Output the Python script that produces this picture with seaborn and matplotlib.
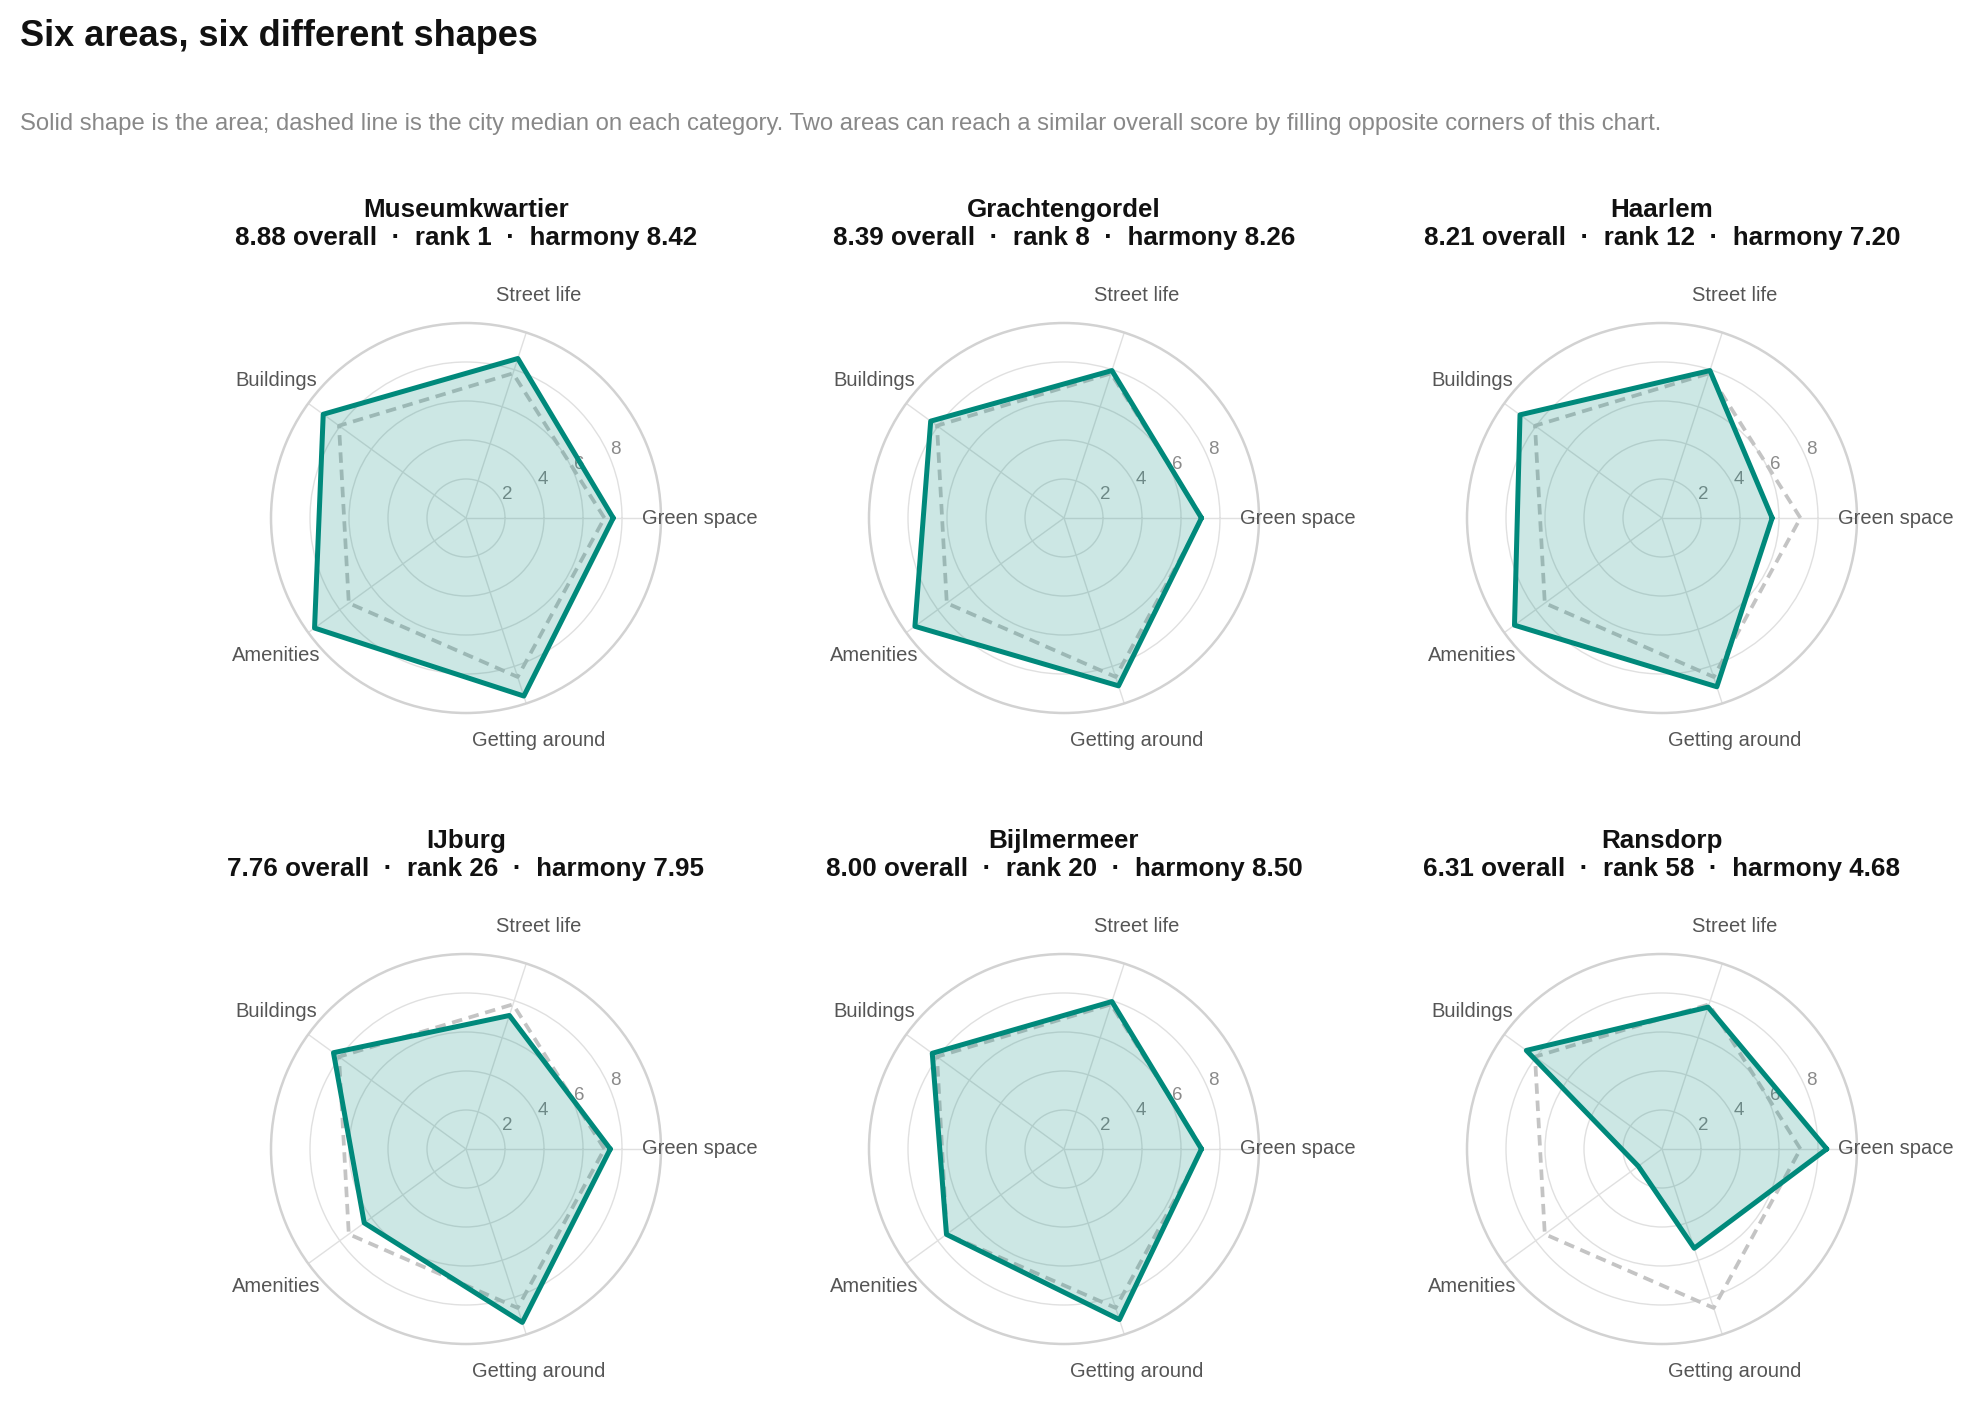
import numpy as np
import pandas as pd
import matplotlib
matplotlib.use("Agg")
import matplotlib.pyplot as plt
import seaborn as sns

# Data
categories = ["Green space", "Street life", "Buildings", "Amenities", "Getting around"]
areas = ["Museumkwartier", "Grachtengordel", "Haarlem", "IJburg", "Bijlmermeer", "Ransdorp"]
overall = [8.88, 8.39, 8.21, 7.76, 8.00, 6.31]
rank = [1, 8, 12, 26, 20, 58]
harmony = [8.42, 8.26, 7.20, 7.95, 8.50, 4.68]

museumkwartier = [7.55, 8.6, 9.05, 9.6, 9.6]
grachtengordel = [7.05, 7.95, 8.45, 9.45, 9.05]
haarlem = [5.65, 7.95, 9.0, 9.35, 9.1]
ijburg = [7.4, 7.2, 8.4, 6.45, 9.35]
bijlmermeer = [7.05, 7.95, 8.35, 7.45, 9.2]
ransdorp = [8.45, 7.65, 8.6, 1.5, 5.35]
city_median = [7.1, 7.8, 8.05, 7.43, 8.57]

scores = [museumkwartier, grachtengordel, haarlem, ijburg, bijlmermeer, ransdorp]

sns.set_theme(style="white")
plt.rcParams["font.family"] = ["Liberation Sans", "DejaVu Sans"]

TEAL = "#00897B"
W, H = 1974, 1401
R = 195
col_x = [466, 1064, 1662]
row_y = [518, 1149]

angles = np.linspace(0, 2 * np.pi, len(categories), endpoint=False)


def closed(values):
    # long-form frame for seaborn, first point repeated to close the shape
    theta = list(angles) + [angles[0]]
    r = list(values) + [values[0]]
    return pd.DataFrame({"theta": theta, "r": r})


fig = plt.figure(figsize=(W / 100, H / 100), dpi=100)

fig.text(20 / W, 1 - 37 / H, "Six areas, six different shapes",
         fontsize=26, fontweight="bold", color="#111111", va="center", ha="left")
fig.text(20 / W, 1 - 124 / H,
         "Solid shape is the area; dashed line is the city median on each category. "
         "Two areas can reach a similar overall score by filling opposite corners of this chart.",
         fontsize=17.2, color="#888888", va="center", ha="left")

for i, name in enumerate(areas):
    cx = col_x[i % 3]
    cy = row_y[i // 3]
    ax = fig.add_axes([(cx - R) / W, 1 - (cy + R) / H, 2 * R / W, 2 * R / H],
                      projection="polar")
    ax.set_axisbelow(True)

    med = closed(city_median)
    sns.lineplot(data=med, x="theta", y="r", ax=ax, sort=False, estimator=None,
                 color="#c4c4c4", linewidth=2.7, linestyle=(0, (2.8, 1.8)), zorder=2)
    area = closed(scores[i])
    ax.fill(area["theta"], area["r"], color=TEAL, alpha=0.2, linewidth=0, zorder=3)
    sns.lineplot(data=area, x="theta", y="r", ax=ax, sort=False, estimator=None,
                 color=TEAL, linewidth=3.6, zorder=4)

    ax.set_ylim(0, 10)
    ax.set_yticks([2, 4, 6, 8])
    ax.set_yticklabels(["2", "4", "6", "8"], fontsize=13.5, color="#8a8a8a")
    ax.set_rlabel_position(22.5)
    ax.set_xticks(angles)
    ax.set_xticklabels([])
    ax.grid(True, color="#e0e0e0", linewidth=1.0)
    ax.spines["polar"].set_color("#d2d2d2")
    ax.spines["polar"].set_linewidth(1.8)
    ax.set_xlabel("")
    ax.set_ylabel("")
    ax.tick_params(axis="y", pad=0)

    for a, lab in zip(angles, categories):
        ax.text(a, 12, lab, ha="center", va="center", fontsize=14.5, color="#555555")

    fig.text(cx / W, 1 - (cy - 308) / H, name, fontsize=18.7, fontweight="bold",
             color="#111111", ha="center", va="center")
    fig.text(cx / W, 1 - (cy - 280) / H,
             f"{overall[i]:.2f} overall  \u00b7  rank {rank[i]}  \u00b7  harmony {harmony[i]:.2f}",
             fontsize=18.7, fontweight="bold", color="#111111", ha="center", va="center")

fig.savefig("out.png", dpi=100, facecolor="white")
